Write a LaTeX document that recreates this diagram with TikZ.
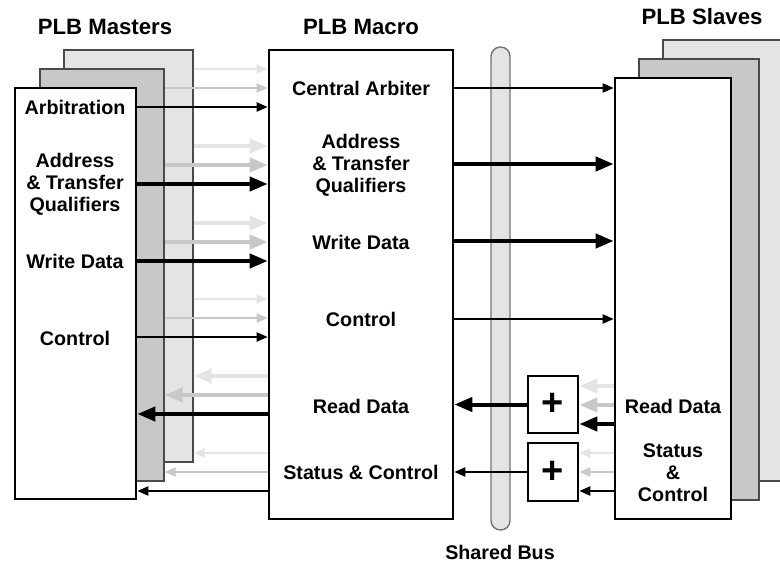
\documentclass[tikz,border=0pt]{standalone}
\usepackage{fontspec}
\setmainfont{Liberation Sans}
\usetikzlibrary{arrows.meta,fit}
\definecolor{pale}{HTML}{E4E4E4}
\definecolor{mid}{HTML}{C8C8C8}
\definecolor{edge}{HTML}{4A4A4A}
\tikzset{
  unit/.style={inner sep=0pt, draw, line width=1.3pt, fill=white},
  layer/.style={inner sep=0pt, draw=edge, line width=0.7pt, fill=#1},
  bus/.style={inner sep=0pt, draw=black!55, line width=0.7pt, fill=pale, rounded corners=4.7pt},
  wire/.style={line width=1pt, -{Triangle[length=5.5pt,width=4.5pt]}},
  fatwire/.style={line width=2pt, -{Triangle[length=9pt,width=7pt]}},
  lbl/.style={font=\fontsize{9.85}{11}\selectfont\bfseries, align=center},
  ttl/.style={font=\fontsize{11.1}{13}\selectfont\bfseries},
  sumfont/.style={font=\fontsize{19}{19}\selectfont\bfseries, inner sep=0pt}
}
\begin{document}
\begin{tikzpicture}[x=0.5pt, y=-0.5pt]
  \clip (0,0) rectangle (780,562);
  % masters
  \node[layer=pale, fit={(64,50) (193,462)}] (mback) {};
  \node[layer=mid, fit={(40,69) (164,481)}] (mmid) {};
  \node[unit, fit={(15,88) (136,499)}] (mfront) {};
  % slaves
  \node[layer=pale, fit={(663,40) (800,481)}] (sback) {};
  \node[layer=mid, fit={(639,59) (759,500)}] (smid) {};
  \node[unit, fit={(615,78) (731,519)}] (sfront) {};
  % macro, bus, or-gates
  \node[unit, fit={(269,50) (453,519)}] (macro) {};
  \node[bus, fit={(491,47) (510,530)}] (bus) {};
  \node[unit, fit={(528,376) (578,433)}] (sum1) {};
  \node[unit, fit={(528,443) (578,501)}] (sum2) {};
  \node[sumfont] (plus1) at (sum1.center) {+};
  \node[sumfont] (plus2) at (sum2.center) {+};

  % masters -> macro
  \foreach \y/\s in {107/wire, 184/fatwire, 261/fatwire, 337/wire} {
    \draw[\s, pale] (mback.east |- 0,\y-38) -- (macro.west |- 0,\y-38);
    \draw[\s, mid] (mmid.east |- 0,\y-19) -- (macro.west |- 0,\y-19);
    \draw[\s] (mfront.east |- 0,\y) -- (macro.west |- 0,\y);
  }
  % macro -> masters
  \foreach \y/\s in {414/fatwire, 491/wire} {
    \draw[\s, pale] (macro.west |- 0,\y-38) -- (mback.east |- 0,\y-38);
    \draw[\s, mid] (macro.west |- 0,\y-19) -- (mmid.east |- 0,\y-19);
    \draw[\s] (macro.west |- 0,\y) -- (mfront.east |- 0,\y);
  }
  % macro -> slaves
  \foreach \y/\s in {88/wire, 164/fatwire, 241/fatwire, 319/wire}
    \draw[\s] (macro.east |- 0,\y) -- (sfront.west |- 0,\y);
  % slaves -> or-gates -> macro
  \foreach \y/\s/\g in {424/fatwire/sum1, 491/wire/sum2} {
    \draw[\s, pale] (sfront.west |- 0,\y-38) -- (\g.east |- 0,\y-38);
    \draw[\s, mid] (sfront.west |- 0,\y-19) -- (\g.east |- 0,\y-19);
    \draw[\s] (sfront.west |- 0,\y) -- (\g.east |- 0,\y);
  }
  \draw[fatwire] (sum1.west) -- (macro.east |- sum1.west);
  \draw[wire] (sum2.west) -- (macro.east |- sum2.west);

  % titles
  \node[ttl] (tmast) at (105,27) {PLB Masters};
  \node[ttl] (tmacro) at (361,27) {PLB Macro};
  \node[ttl] (tslave) at (702,17) {PLB Slaves};
  \node[lbl] (tbus) at (500,552) {Shared Bus};

  % master labels
  \node[lbl] (marb) at (75,107) {Arbitration};
  \node[lbl] (maddr) at (75,184) {Address\\\& Transfer\\Qualifiers};
  \node[lbl] (mwr) at (75,261) {Write Data};
  \node[lbl] (mctl) at (75,338) {Control};
  % macro labels
  \node[lbl] (carb) at (361,88) {Central Arbiter};
  \node[lbl] (caddr) at (361,165) {Address\\\& Transfer\\Qualifiers};
  \node[lbl] (cwr) at (361,242) {Write Data};
  \node[lbl] (cctl) at (361,319) {Control};
  \node[lbl] (crd) at (361,406) {Read Data};
  \node[lbl] (cstat) at (361,472) {Status \& Control};
  % slave labels
  \node[lbl] (srd) at (673,406) {Read Data};
  \node[lbl] (sstat) at (673,473) {Status\\\&\\Control};
\end{tikzpicture}
\end{document}
